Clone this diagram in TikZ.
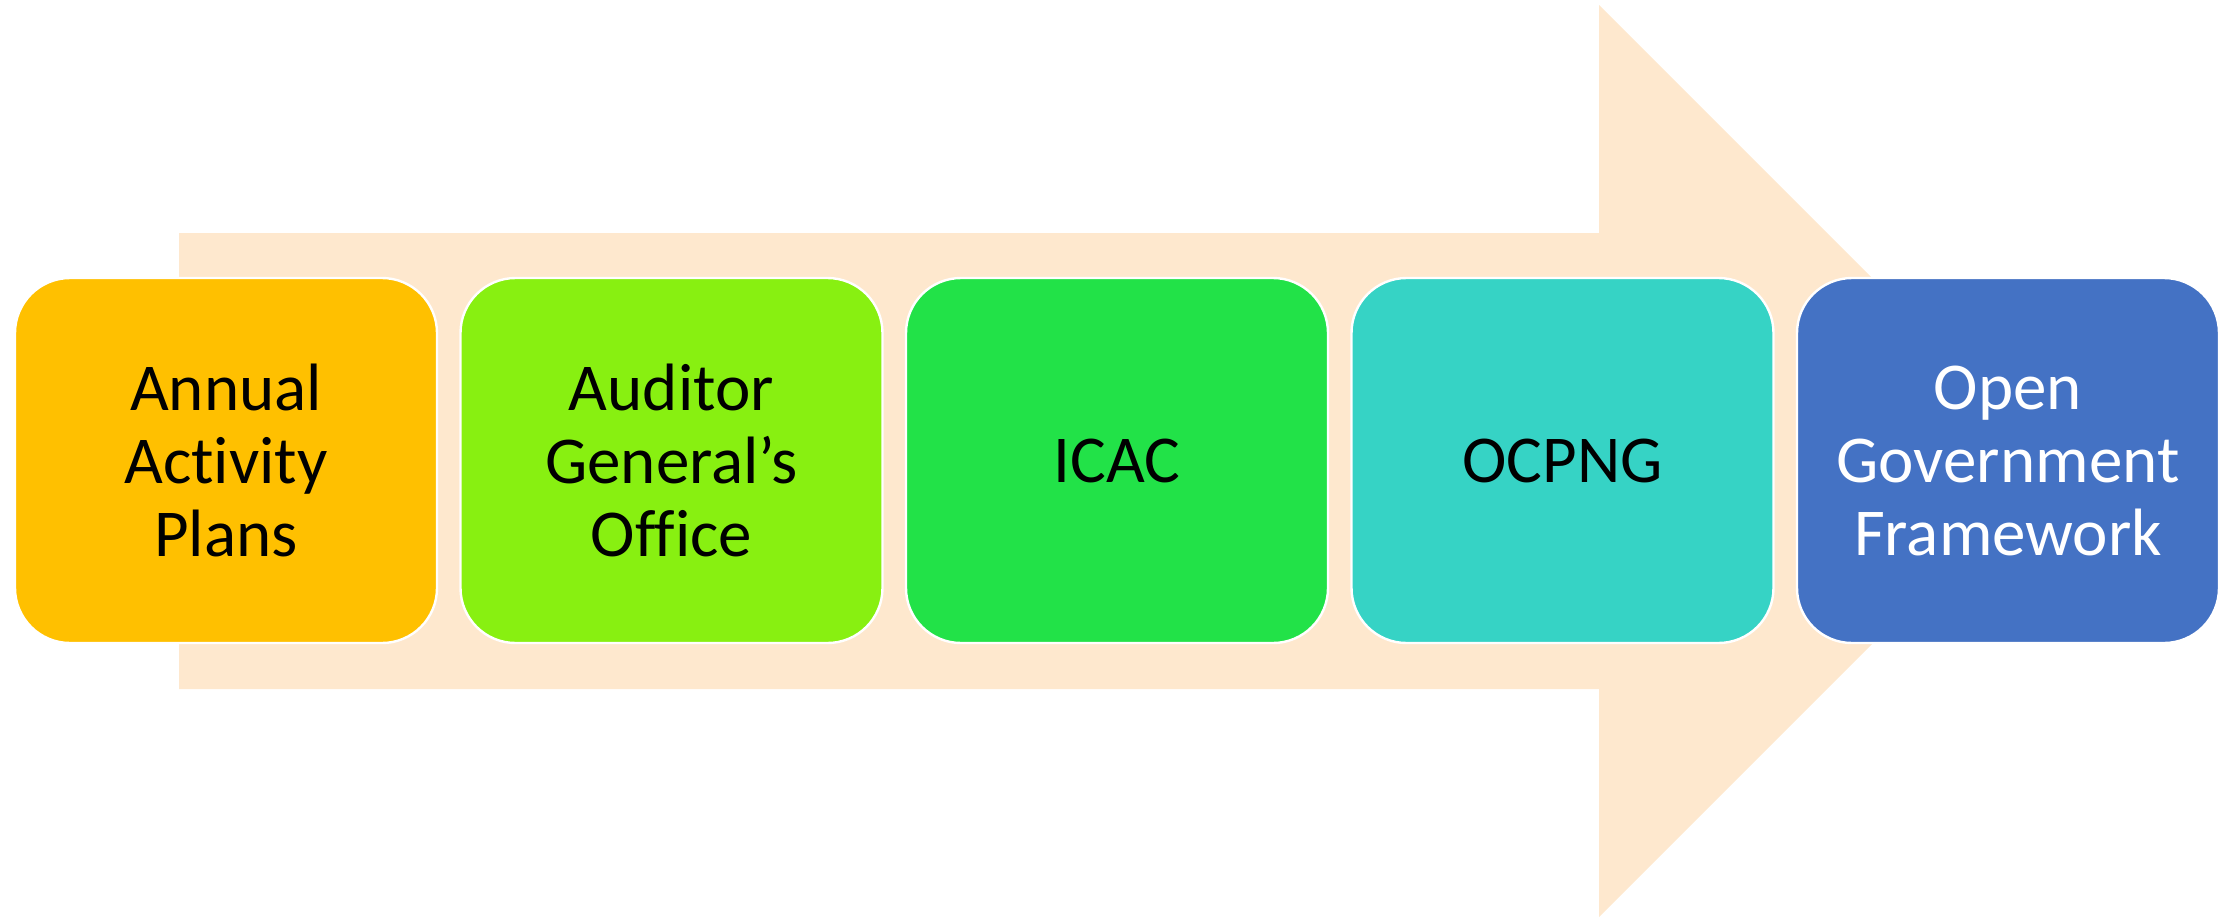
\documentclass[tikz,border=0pt]{standalone}
\usepackage{fontspec}
\setmainfont{Carlito}[Ligatures={NoCommon}, RawFeature={-liga;-clig;-dlig}]
\definecolor{arrowfill}{HTML}{FEE8CE}
\definecolor{cA}{HTML}{FFC000}
\definecolor{cB}{HTML}{88F011}
\definecolor{cC}{HTML}{22E248}
\definecolor{cD}{HTML}{36D3C5}
\definecolor{cE}{HTML}{4472C4}
\tikzset{
  stagebox/.style={rounded corners=27.5pt, minimum width=211pt, minimum height=182.5pt,
    inner sep=0pt, outer sep=0pt, draw=white, line width=1.2pt, align=center,
    font=\fontsize{33.5pt}{36.5pt}\selectfont},
}
\begin{document}
\begin{tikzpicture}[x=0.5pt,y=-0.5pt]
\useasboundingbox (0,0) rectangle (2233,917);
\fill[arrowfill] (179,233) -- (1599,233) -- (1599,5) -- (2055,461) -- (1599,917) -- (1599,689) -- (179,689) -- cycle;
\node[stagebox, fill=cA, text=black] (s1) at (226,460.5) {Annual\\Activity\\Plans};
\node[stagebox, fill=cB, text=black] (s2) at (671.5,460.5) {Auditor\\General’s\\Office};
\node[stagebox, fill=cC, text=black] (s3) at (1117,460.5) {ICAC};
\node[stagebox, fill=cD, text=black] (s4) at (1562.5,460.5) {OCPNG};
\node[stagebox, fill=cE, text=white] (s5) at (2008,460.5) {Open\\Government\\Framework};
\end{tikzpicture}
\end{document}
